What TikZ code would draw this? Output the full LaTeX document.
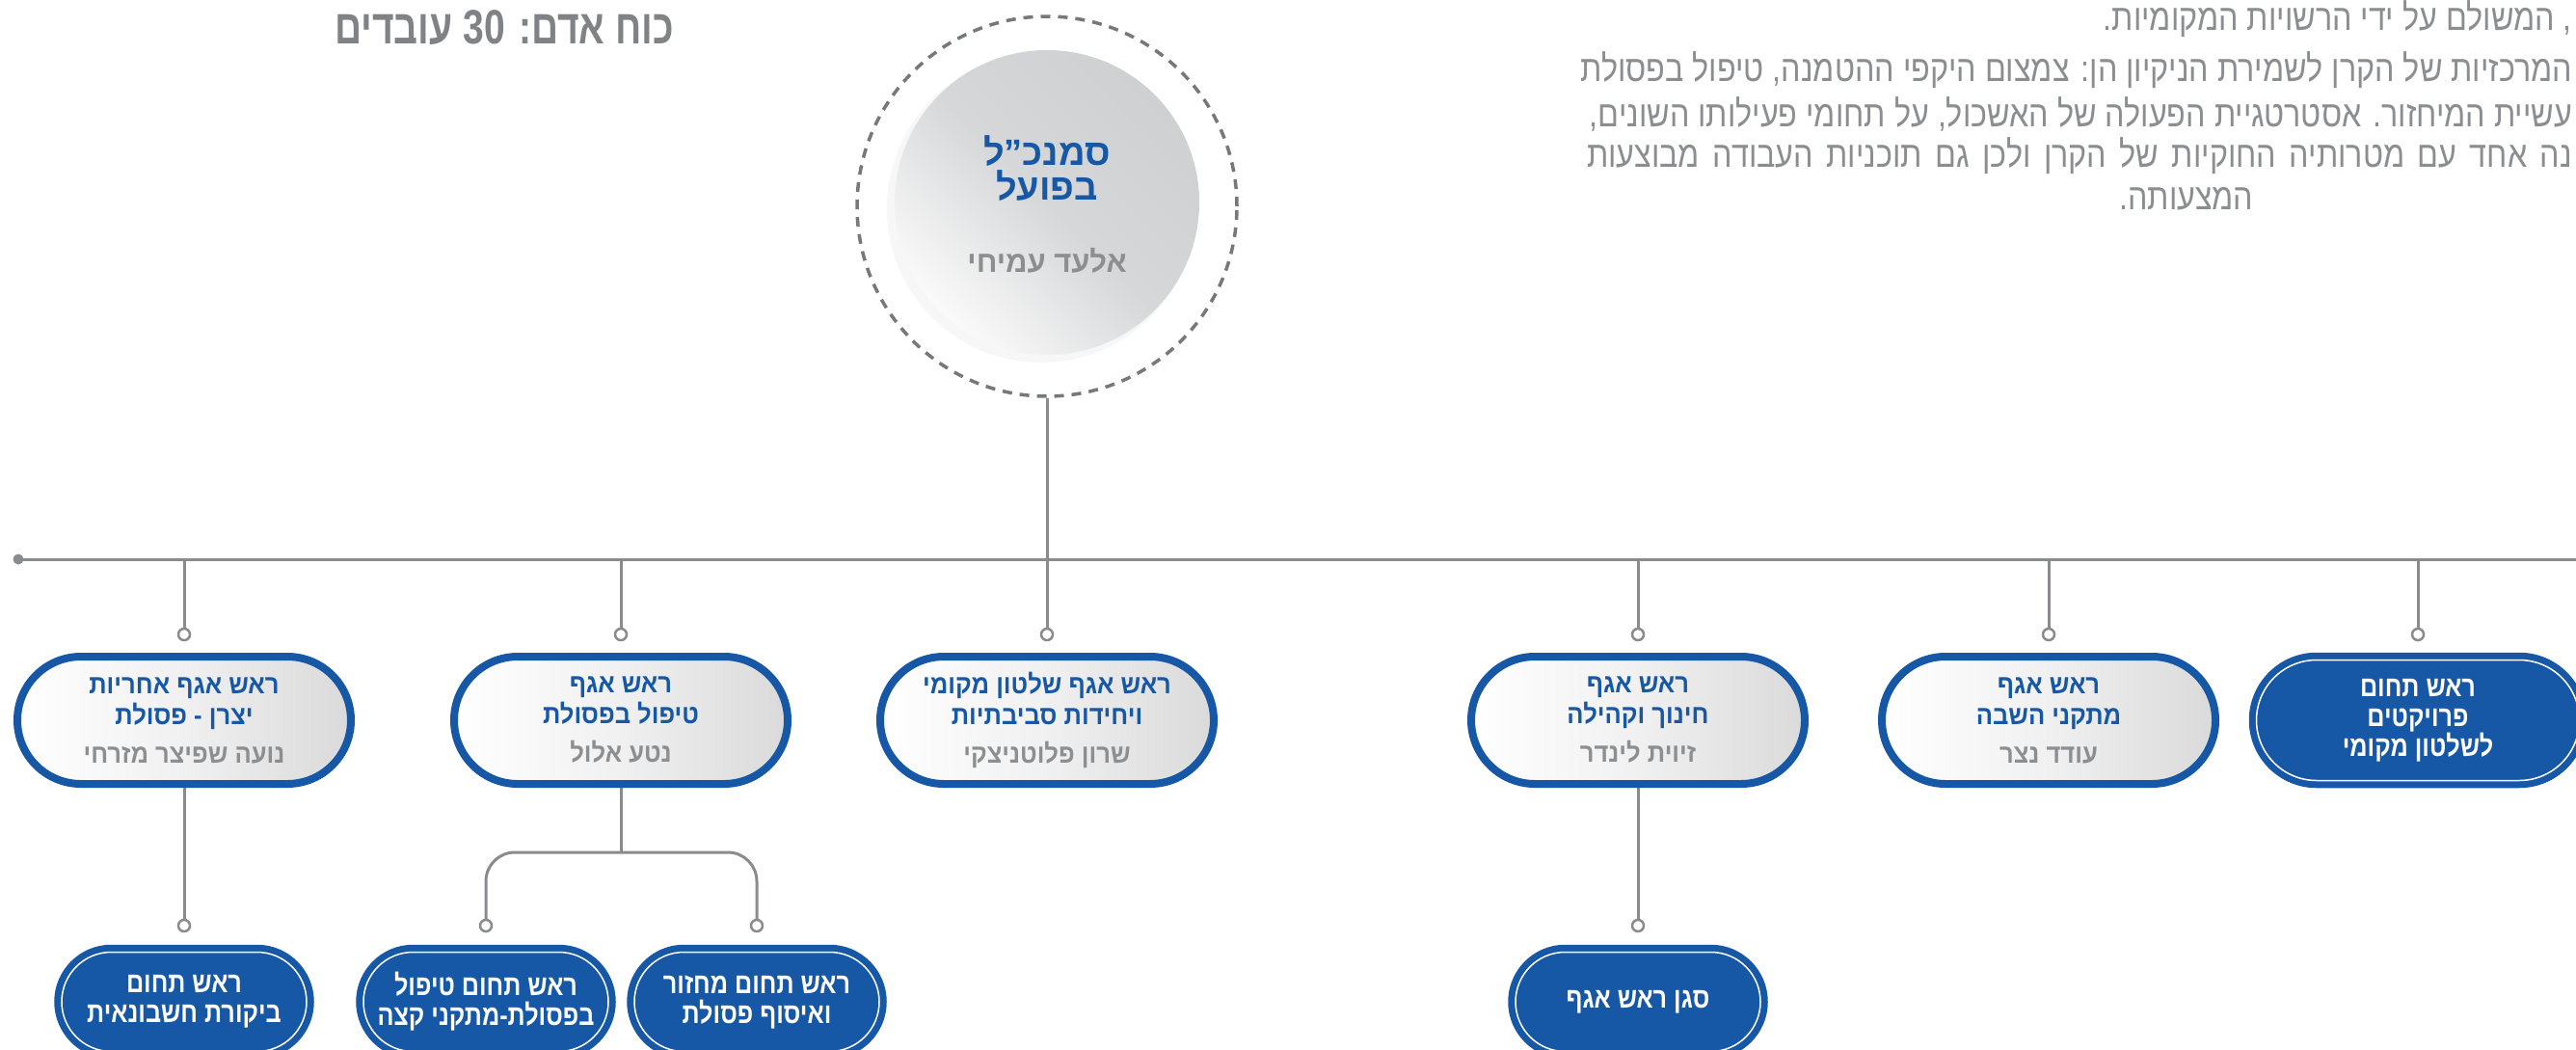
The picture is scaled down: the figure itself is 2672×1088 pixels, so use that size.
\documentclass[tikz,border=0pt]{standalone}
\usepackage{fontspec}
\usetikzlibrary{shapes.misc}
\TeXXeTstate=1
\newfontfamily\hebfont[Script=Hebrew]{Liberation Sans}
\newfontfamily\hebnarrow[Script=Hebrew,FakeStretch=0.93]{Liberation Sans}
\newfontfamily\hebblue[Script=Hebrew,FakeStretch=0.84]{Liberation Sans}
\newfontfamily\hebthin[Script=Hebrew,FakeStretch=0.85]{Liberation Sans}
\newfontfamily\hebcond[Script=Hebrew,FakeStretch=0.78]{Liberation Sans}
\newcommand\rl[1]{\beginR#1\endR}
\definecolor{agafblue}{HTML}{1657A6}
\definecolor{linegray}{HTML}{8A8B8E}
\definecolor{namegray}{HTML}{8D8E90}
\definecolor{headgray}{HTML}{808285}
\definecolor{paragray}{HTML}{8C8D90}
\definecolor{boxgray}{HTML}{DADADB}
\definecolor{circgray}{HTML}{CFD0D2}
\definecolor{dashgray}{HTML}{77787B}

\begin{document}
\begin{tikzpicture}[x=1pt,y=-1pt,
	conn/.style={draw=linegray,line width=3},
	opendot/.style={circle,draw=linegray,fill=white,line width=2.5,inner sep=0,minimum size=12},
	graybox/.style={rounded rectangle,draw=agafblue,line width=8,left color=white,right color=boxgray,middle color=boxgray!40!white,minimum width=346,minimum height=132,inner sep=0,align=center,text=agafblue,font=\hebnarrow\bfseries\fontsize{27.5}{32}\selectfont},
	bluebox/.style={rounded rectangle,fill=agafblue,draw=agafblue,double=white,double distance=1.5,line width=7,minimum width=254,minimum height=103,inner sep=0,align=center,text=white,font=\hebblue\bfseries\fontsize{30}{31}\selectfont},
	para/.style={anchor=east,inner sep=0,text=paragray,font=\hebthin\fontsize{38}{44}\selectfont}]
		\useasboundingbox (0,0) rectangle (2672,1088);
		\fill[white] (0,0) rectangle (2672,1088);
		% heading and text
		\node[text=headgray,font=\hebcond\bfseries\fontsize{50}{54}\selectfont] (staff) at (523,29) {\rl{כוח אדם: \beginL30\endL{} עובדים}};
		\node[para] (txta) at (2668,20) {\rl{, המשולם על ידי הרשויות המקומיות.}};
		\node[para] (txtb) at (2668,73) {\rl{המרכזיות של הקרן לשמירת הניקיון הן: צמצום היקפי ההטמנה, טיפול בפסולת}};
		\node[para] (txtc) at (2668,118) {\rl{עשיית המיחזור. אסטרטגיית הפעולה של האשכול, על תחומי פעילותו השונים,}};
		\node[para] (txtd) at (2668,162) {\spaceskip=13.5pt\rl{נה אחד עם מטרותיה החוקיות של הקרן ולכן גם תוכניות העבודה מבוצעות}};
		\node[para,anchor=west] (txte) at (2198,206) {\rl{המצעותה.}};
		% top circle
		\node[circle,draw=dashgray,line width=3.5,dash pattern=on 10pt off 8pt,minimum size=394,inner sep=0] (ring) at (1086,214) {};
		\fill[gray!6] (1080,216) circle[radius=160pt];
		\shade[top color=circgray,bottom color=gray!4,middle color=circgray!85!white,shading angle=-45] (1086,210) circle[radius=158pt];
		\node[align=center,text=agafblue,font=\hebfont\bfseries\fontsize{38}{36}\selectfont] (vp) at (1086,175) {\rl{סמנכ”ל}\\\rl{בפועל}};
		\node[text=namegray,font=\hebfont\bfseries\fontsize{31}{32}\selectfont] (vpname) at (1086,270) {\rl{אלעד עמיחי}};
		% main line
		\node[circle,fill=linegray,inner sep=0,minimum size=11] (dotL) at (19,580) {};
		\coordinate (lineR) at (2672,580);
		\draw[conn] (dotL.center) -- (lineR);
		\node[opendot] (d1) at (191,658) {};
		\node[opendot] (d2) at (644,658) {};
		\node[opendot] (d3) at (1086,658) {};
		\node[opendot] (d4) at (1699,658) {};
		\node[opendot] (d5) at (2125,658) {};
		\node[opendot] (d6) at (2508,658) {};
		\draw[conn] (d1 |- dotL) -- (d1);
		\draw[conn] (d2 |- dotL) -- (d2);
		\draw[conn] (ring) -- (d3);
		\draw[conn] (d4 |- dotL) -- (d4);
		\draw[conn] (d5 |- dotL) -- (d5);
		\draw[conn] (d6 |- dotL) -- (d6);
		% second row
		\node[opendot] (d7) at (191,960) {};
		\node[opendot] (d8) at (504,960) {};
		\node[opendot] (d9) at (785,960) {};
		\node[opendot] (d10) at (1699,960) {};
		\coordinate (fork) at (644,884);
		\draw[conn] (191,747) -- (d7);
		\draw[conn] (644,747) -- (fork);
		\draw[conn,rounded corners=30] (d8) |- (fork) -| (d9);
		\draw[conn] (1699,747) -- (d10);
		% boxes
		\node[graybox] (b1) at (191,747) {\rl{ראש אגף אחריות}\\\rl{יצרן - פסולת}\\[8pt]{\color{namegray}\rl{נועה שפיצר מזרחי}}};
		\node[graybox] (b2) at (644,747) {\rl{ראש אגף}\\\rl{טיפול בפסולת}\\[8pt]{\color{namegray}\rl{נטע אלול}}};
		\node[graybox] (b3) at (1086,747) {\rl{ראש אגף שלטון מקומי}\\\rl{ויחידות סביבתיות}\\[8pt]{\color{namegray}\rl{שרון פלוטניצקי}}};
		\node[graybox] (b4) at (1699,747) {\rl{ראש אגף}\\\rl{חינוך וקהילה}\\[8pt]{\color{namegray}\rl{זיוית לינדר}}};
		\node[graybox] (b5) at (2125,747) {\rl{ראש אגף}\\\rl{מתקני השבה}\\[8pt]{\color{namegray}\rl{עודד נצר}}};
		\node[bluebox,minimum width=335,minimum height=125] (b6) at (2508,747) {\rl{ראש תחום}\\\rl{פרויקטים}\\\rl{לשלטון מקומי}};
		\node[bluebox] (b7) at (191,1039) {\rl{ראש תחום}\\\rl{ביקורת חשבונאית}};
		\node[bluebox] (b8) at (504,1039) {\rl{ראש תחום טיפול}\\\rl{בפסולת-מתקני קצה}};
		\node[bluebox] (b9) at (785,1039) {\rl{ראש תחום מחזור}\\\rl{ואיסוף פסולת}};
		\node[bluebox] (b10) at (1699,1039) {\rl{סגן ראש אגף}};
	\end{tikzpicture}
\end{document}
